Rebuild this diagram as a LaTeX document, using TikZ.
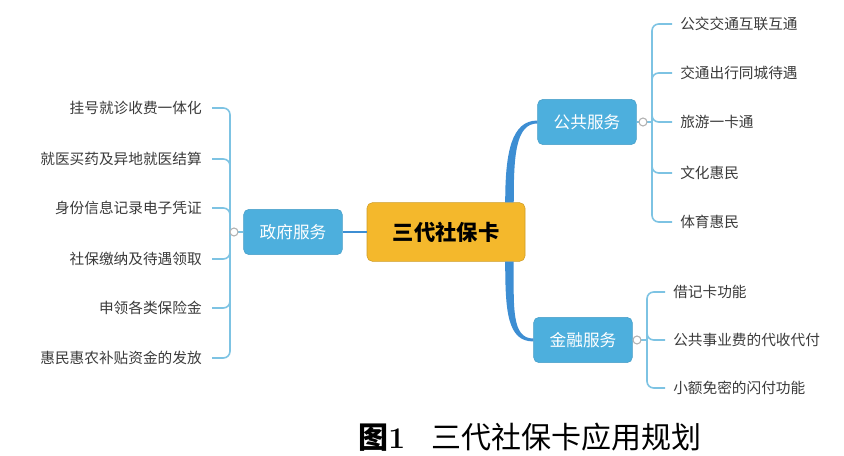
\documentclass[tikz,border=0pt]{standalone}
\usepackage{fontspec}
\newfontfamily\cjk{Noto Sans CJK SC}
\usetikzlibrary{positioning}

\definecolor{gold}{HTML}{F4B82C}
\definecolor{skyblue}{HTML}{4DAFDD}
\definecolor{trunkblue}{HTML}{3D8ED3}
\definecolor{twigblue}{HTML}{7DC3E3}
\definecolor{leafgray}{HTML}{3A3A3A}

\begin{document}
\begin{tikzpicture}[x=0.75pt, y=-0.75pt,
  root/.style={fill=gold, draw=gold!85!black, rounded corners=4pt, minimum width=118.5pt, minimum height=44pt, font=\cjk\fontsize{16}{16}\selectfont\bfseries},
  branch/.style={fill=skyblue, draw=skyblue!90!black, rounded corners=4pt, minimum width=74pt, minimum height=34pt, text=white, font=\cjk\fontsize{12.5}{12.5}\selectfont},
  leafl/.style={anchor=east, inner xsep=7.5pt, inner ysep=2pt, text=leafgray, font=\cjk\fontsize{11}{11}\selectfont},
  leafr/.style={anchor=west, inner xsep=6pt, inner ysep=2pt, text=leafgray, font=\cjk\fontsize{11}{11}\selectfont},
  trunk/.style={fill=trunkblue},
  twig/.style={draw=twigblue, line width=1.2pt, rounded corners=5pt},
  knob/.style={circle, draw=gray!60, fill=white, line width=0.8pt, inner sep=0pt, minimum size=6pt},
]
\useasboundingbox (0,0) rectangle (844,456);

% centre and the three branches
\node[root] (card) at (446,232) {三代社保卡};
\node[branch] (gov) at (293,232) {政府服务};
\node[branch] (pub) at (587,122) {公共服务};
\node[branch] (fin) at (583,340) {金融服务};

\draw[trunkblue, line width=1.6pt] (card.west) -- (gov.east);
% tapered trunks
\fill[trunk] ([xshift=-3.2pt]card.25) .. controls +(0,-50) and +(-26,0) .. ([yshift=1.1pt]pub.west)
  -- ([yshift=-1.1pt]pub.west) .. controls +(-22,0) and +(0,-46) .. ([xshift=3.2pt]card.25) -- cycle;
\fill[trunk] ([xshift=-3.2pt]card.-25) .. controls +(0,50) and +(-26,0) .. ([yshift=-1.1pt]fin.west)
  -- ([yshift=1.1pt]fin.west) .. controls +(-22,0) and +(0,46) .. ([xshift=3.2pt]card.-25) -- cycle;

% government leaves
\coordinate (gbar) at (230,232);
\node[leafl] (g1) at (212,108) {挂号就诊收费一体化};
\node[leafl] (g2) at (212,159) {就医买药及异地就医结算};
\node[leafl] (g3) at (212,208) {身份信息记录电子凭证};
\node[leafl] (g4) at (212,259) {社保缴纳及待遇领取};
\node[leafl] (g5) at (212,308) {申领各类保险金};
\node[leafl] (g6) at (212,358) {惠民惠农补贴资金的发放};
\draw[twig] (gov.west) -- (gbar);
\draw[twig] (gbar) |- (g1.east);
\draw[twig] (gbar) |- (g2.east);
\draw[twig] (gbar) |- (g3.east);
\draw[twig] (gbar) |- (g4.east);
\draw[twig] (gbar) |- (g5.east);
\draw[twig] (gbar) |- (g6.east);
\node[knob] (gknob) at (234,232) {};

% public leaves
\coordinate (pbar) at (652,122);
\node[leafr] (p1) at (672,24) {公交交通互联互通};
\node[leafr] (p2) at (672,73) {交通出行同城待遇};
\node[leafr] (p3) at (672,122) {旅游一卡通};
\node[leafr] (p4) at (672,173) {文化惠民};
\node[leafr] (p5) at (672,222) {体育惠民};
\draw[twig] (pub.east) -- (pbar);
\draw[twig] (pbar) |- (p1.west);
\draw[twig] (pbar) |- (p2.west);
\draw[twig] (pbar) |- (p3.west);
\draw[twig] (pbar) |- (p4.west);
\draw[twig] (pbar) |- (p5.west);
\node[knob] (pknob) at (643,122) {};

% finance leaves
\coordinate (fbar) at (647,340);
\node[leafr] (f1) at (665,292) {借记卡功能};
\node[leafr] (f2) at (665,340) {公共事业费的代收代付};
\node[leafr] (f3) at (665,388) {小额免密的闪付功能};
\draw[twig] (fin.east) -- (fbar);
\draw[twig] (fbar) |- (f1.west);
\draw[twig] (fbar) |- (f2.west);
\draw[twig] (fbar) |- (f3.west);
\node[knob] (fknob) at (637,340) {};

% caption
\node[anchor=west, inner sep=0pt, font=\fontsize{22.5}{22.5}\selectfont] (caption) at (358,437)
  {{\cjk\bfseries 图}{\bfseries 1}\hspace{20pt}{\cjk 三代社保卡应用规划}};
\end{tikzpicture}
\end{document}
